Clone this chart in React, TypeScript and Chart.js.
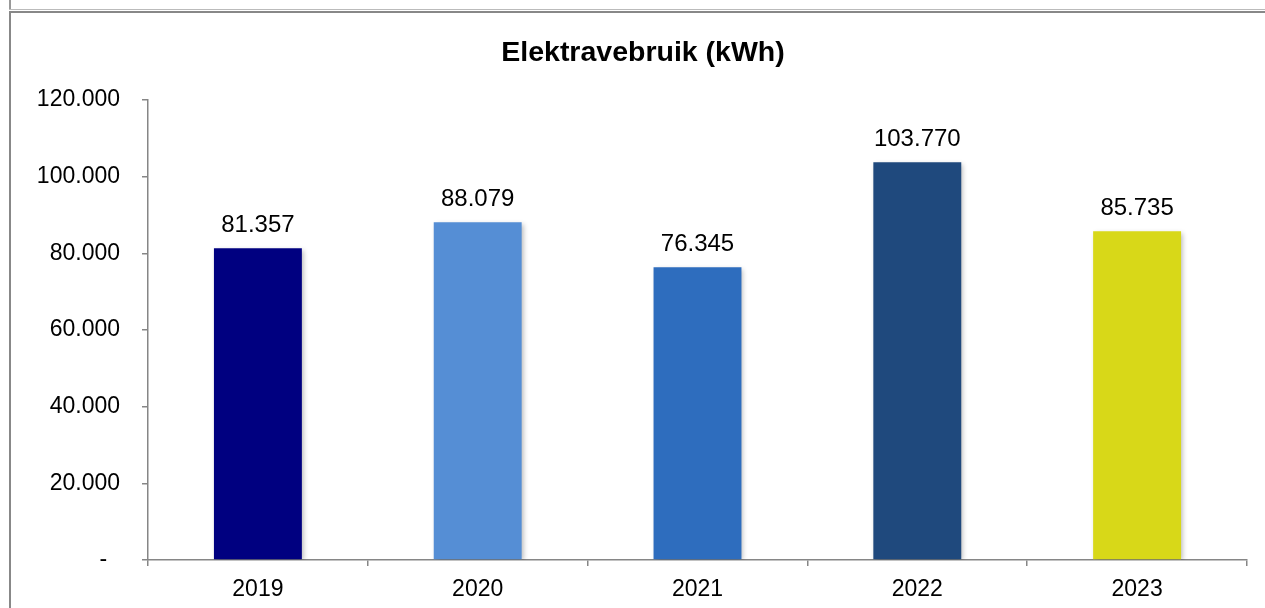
import React, { useEffect, useRef } from 'react';
import { Chart, registerables } from 'chart.js';

Chart.register(...registerables);

const titleText = 'Elektravebruik (kWh)';
const categories = ['2019', '2020', '2021', '2022', '2023'];
const values = [81357, 88079, 76345, 103770, 85735];
const barColors = ['#000080', '#558ED5', '#2E6DBE', '#1F497D', '#D8D818'];
const yMin = 0;
const yMax = 120000;
const yStep = 20000;
const zeroLabel = '-  ';

const FONT = '"Liberation Sans", Arial, Helvetica, sans-serif';

function fmt(v: number): string {
  return String(Math.round(v)).replace(/\B(?=(\d{3})+(?!\d))/g, '.');
}

// The original chart frame extends past the right edge of the window,
// so its title is centred a little right of the visible middle.
const titleCentrePlugin = {
  id: 'titleCentre',
  afterLayout(chart: any) {
    const tb = chart.titleBlock;
    if (tb) {
      tb.left = 0;
      tb.right = 1286;
      tb.width = 1286;
    }
  },
};

const shadowPlugin = {
  id: 'barShadow',
  beforeDatasetsDraw(chart: any) {
    const ctx = chart.ctx;
    ctx.save();
    ctx.shadowColor = 'rgba(0,0,0,0.28)';
    ctx.shadowBlur = 5;
    ctx.shadowOffsetX = 2;
    ctx.shadowOffsetY = 2;
  },
  afterDatasetsDraw(chart: any) {
    chart.ctx.restore();
  },
};

const labelPlugin = {
  id: 'barLabels',
  afterDatasetsDraw(chart: any) {
    const ctx = chart.ctx;
    const meta = chart.getDatasetMeta(0);
    ctx.save();
    ctx.font = `24px ${FONT}`;
    ctx.fillStyle = '#000';
    ctx.textAlign = 'center';
    ctx.textBaseline = 'alphabetic';
    meta.data.forEach((bar: any, i: number) => {
      const v = chart.data.datasets[0].data[i] as number;
      ctx.fillText(fmt(v), bar.x, bar.y - 16);
    });
    ctx.restore();
  },
};

export default function App() {
  const ref = useRef<HTMLCanvasElement | null>(null);

  useEffect(() => {
    if (!ref.current) return;
    const chart = new Chart(ref.current, {
      type: 'bar',
      data: {
        labels: categories,
        datasets: [
          {
            data: values,
            backgroundColor: barColors,
            borderWidth: 0,
            barPercentage: 0.4,
            categoryPercentage: 1,
          },
        ],
      },
      options: {
        responsive: false,
        animation: false,
        devicePixelRatio: 1,
        layout: { padding: { left: 0, right: 18, top: 0, bottom: 0 } },
        plugins: {
          legend: { display: false },
          tooltip: { enabled: false },
          title: {
            display: true,
            text: titleText,
            color: '#000',
            font: { family: FONT, size: 28.5, weight: 'bold', lineHeight: 1.2 },
            padding: { top: 36, bottom: 29.8 },
          },
        },
        scales: {
          x: {
            afterFit: (s: any) => {
              s.height = 48;
            },
            grid: {
              display: true,
              drawOnChartArea: false,
              drawTicks: true,
              tickLength: 6,
              color: '#868686',
              lineWidth: 1.5,
              offset: true,
            },
            border: { display: true, color: '#868686', width: 1.5 },
            ticks: {
              color: '#000',
              font: { family: FONT, size: 23 },
              padding: 10,
              maxRotation: 0,
            },
          },
          y: {
            min: yMin,
            max: yMax,
            afterFit: (s: any) => {
              s.width = 148;
            },
            grid: {
              display: true,
              drawOnChartArea: false,
              drawTicks: true,
              tickLength: 6,
              color: '#868686',
              lineWidth: 1.5,
            },
            border: { display: true, color: '#868686', width: 1.5 },
            ticks: {
              stepSize: yStep,
              color: '#000',
              font: { family: FONT, size: 23 },
              padding: 22,
              callback: (v: any) => (Number(v) === 0 ? zeroLabel : fmt(Number(v))),
            },
          },
        },
      },
      plugins: [titleCentrePlugin, shadowPlugin, labelPlugin],
    });
    return () => chart.destroy();
  }, []);

  return (
    <div
      style={{
        position: 'fixed',
        left: 0,
        top: 0,
        width: 1265,
        height: 608,
        overflow: 'hidden',
        background: '#fff',
      }}
    >
      <canvas
        ref={ref}
        width={1265}
        height={608}
        style={{ position: 'absolute', left: 0, top: 0, width: 1265, height: 608 }}
      />
      <div style={{ position: 'absolute', left: 9, top: 0, width: 2, height: 10, background: '#999' }} />
      <div style={{ position: 'absolute', left: 9, top: 9, right: 0, height: 1, background: '#bbb' }} />
      <div style={{ position: 'absolute', left: 9, top: 11, right: 0, height: 2, background: '#888' }} />
      <div style={{ position: 'absolute', left: 9, top: 11, width: 2, bottom: 0, background: '#888' }} />
    </div>
  );
}
